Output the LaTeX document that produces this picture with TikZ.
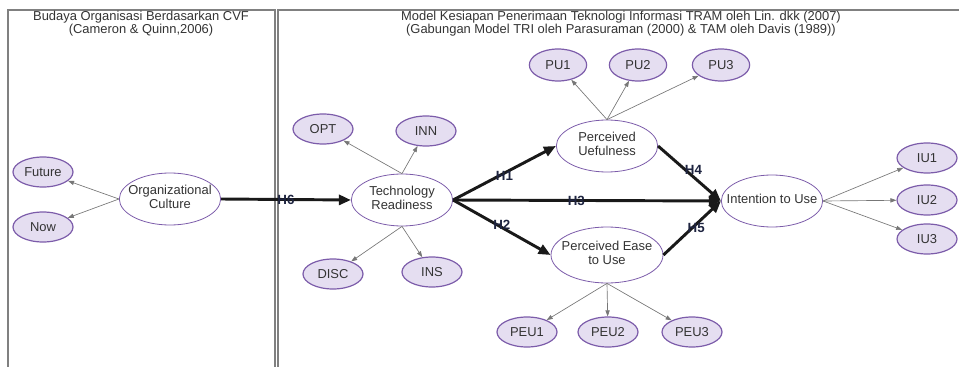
\documentclass[tikz,border=0pt]{standalone}
\usepackage{fontspec}
\setmainfont{Liberation Sans}
\usetikzlibrary{arrows.meta}
\usetikzlibrary{shapes.geometric}

\definecolor{indfill}{HTML}{E5DEF1}
\definecolor{ovalline}{HTML}{7C5CAA}
\definecolor{txtgray}{HTML}{333333}
\definecolor{hypnavy}{HTML}{1E2440}
\definecolor{framegray}{HTML}{808080}
\definecolor{pathgray}{HTML}{777777}

% text of a construct, kept out of the oval size
\newcommand{\ovaltext}[1]{\makebox[0pt]{\begin{tabular}{@{}c@{}}#1\end{tabular}}}

\begin{document}
\begin{tikzpicture}[x=0.75pt, y=-0.75pt,
  font=\fontsize{9.7}{10.5}\selectfont, text=txtgray,
  construct/.style={ellipse, draw=ovalline, fill=white, line width=0.6pt,
    inner sep=0pt, minimum width=76pt, minimum height=39pt},
  indicator/.style={ellipse, draw=ovalline, fill=indfill, line width=0.9pt,
    inner sep=0pt, minimum width=45pt, minimum height=22.5pt},
  loading/.style={pathgray, line width=0.5pt, -{Triangle[length=4.5pt, width=3.2pt]}},
  hyppath/.style={black!90, line width=2.2pt, -{Triangle[length=9pt, width=7.5pt]}},
  hyplabel/.style={font=\fontsize{10}{10.5}\selectfont\bfseries, text=hypnavy, inner sep=0pt},
  frame/.style={framegray, line width=1.2pt}]
\useasboundingbox (0,0) rectangle (959,367);
% draw the two frames
\draw[frame] (8,367) -- (8,10) -- (275,10) -- (275,367);
\draw[frame] (278,367) -- (278,10) -- (959,10);
% frame titles
\node[align=center, font=\fontsize{9.7}{9.75}\selectfont] (cvftitle) at (141,23.5)
  {Budaya Organisasi Berdasarkan CVF\\(Cameron \& Quinn,2006)};
\node[align=center, font=\fontsize{9.7}{9.75}\selectfont] (tramtitle) at (621,23.5)
  {Model Kesiapan Penerimaan Teknologi Informasi TRAM oleh Lin. dkk (2007)\\
   (Gabungan Model TRI oleh Parasuraman (2000) \& TAM oleh Davis (1989))};
%
% constructs
\node[construct] (oc)  at (170,199) {\ovaltext{Organizational\\Culture}};
\node[construct] (tr)  at (402,200) {\ovaltext{Technology\\Readiness}};
\node[construct] (pu)  at (607,146) {\ovaltext{Perceived\\Uefulness}};
\node[construct, minimum width=84pt, minimum height=42pt] (peu) at (607,255)
  {\ovaltext{Perceived Ease\\to Use}};
\node[construct] (iu)  at (772,201) {\ovaltext{Intention to Use}};
%
% indicators
\node[indicator] (fut)  at (43,172)  {Future};
\node[indicator] (now)  at (43,227)  {Now};
\node[indicator] (opt)  at (323,129) {OPT};
\node[indicator] (inn)  at (426,131) {INN};
\node[indicator] (disc) at (333,274) {DISC};
\node[indicator] (ins)  at (432,272) {INS};
\foreach \n/\t/\x in {pu1/PU1/558, pu2/PU2/638, pu3/PU3/721}{
  \node[indicator, minimum width=43pt, minimum height=24pt] (\n) at (\x,65) {\t};
}
\foreach \n/\t/\x in {peu1/PEU1/527, peu2/PEU2/608, peu3/PEU3/692}{
  \node[indicator] (\n) at (\x,332) {\t};
}
\foreach \n/\t/\y in {iu1/IU1/158, iu2/IU2/200, iu3/IU3/239}{
  \node[indicator] (\n) at (927,\y) {\t};
}
%
% draw loading arrows
\draw[loading] (oc.west) -- (fut);
\draw[loading] (oc.west) -- (now);
\foreach \n in {opt,inn} \draw[loading] (tr.north) -- (\n);
\foreach \n in {disc,ins} \draw[loading] (tr.south) -- (\n);
\foreach \n in {pu1,pu2,pu3} \draw[loading] (pu.north) -- (\n);
\foreach \n in {peu1,peu2,peu3} \draw[loading] (peu.south) -- (\n);
\foreach \n in {iu1,iu2,iu3} \draw[loading] (iu.east) -- (\n);
%
% draw hypothesis paths
\draw[hyppath] (oc.east) -- (tr.west) node[hyplabel, midway] {H6};
\draw[hyppath] (tr.east) -- (pu.west) node[hyplabel, midway, yshift=-2pt] {H1};
\draw[hyppath] (tr.east) -- (peu.west) node[hyplabel, midway, yshift=2pt] {H2};
\draw[hyppath] (tr.east) -- (iu.west) node[hyplabel, pos=0.46] {H3};
\draw[hyppath] (pu.east) -- (iu.west) node[hyplabel, midway, xshift=3pt, yshift=3pt] {H4};
\draw[hyppath] (peu.east) -- (iu.west) node[hyplabel, midway, xshift=3pt] {H5};
\end{tikzpicture}
\end{document}
